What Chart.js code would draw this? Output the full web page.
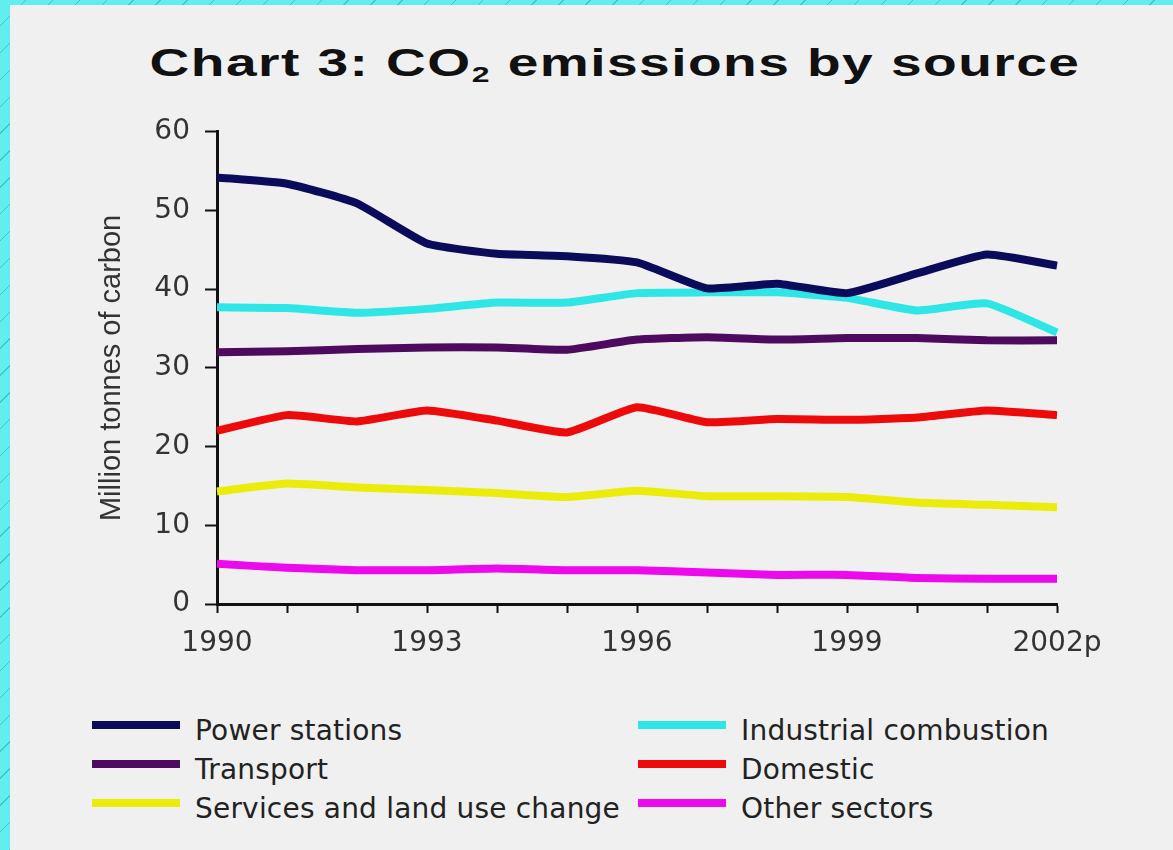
<!DOCTYPE html>
<html>
<head>
<meta charset="utf-8">
<script src="https://cdn.jsdelivr.net/npm/chart.js@4.4.1/dist/chart.umd.min.js"></script>
<style>
  html, body { margin:0; padding:0; }
  body { width:1173px; height:850px; overflow:hidden; background:#f0f0f0; position:relative; font-family:'DejaVu Sans', sans-serif; }
  .edge-top { position:absolute; left:0; top:0; width:1173px; height:5px;
    background: repeating-linear-gradient(135deg, #62eeee 0 18px, #3cc8c8 18px 19px); }
  .edge-left { position:absolute; left:0; top:0; width:10px; height:850px;
    background: repeating-linear-gradient(135deg, #62eeee 0 18px, #3cc8c8 18px 19px); }
  #title { position:absolute; left:56px; width:1117px; top:44px; text-align:center; }
  #title span { display:inline-block; font:bold 38px 'Liberation Sans', Arial, sans-serif; line-height:38px;
    letter-spacing:1px; color:#111; transform:scaleX(1.45); transform-origin:center; }
  #title sub { font-size:0.58em; vertical-align:-0.28em; line-height:0; }
  #wrap { position:absolute; left:0; top:100px; width:1173px; height:580px; }
  .lg { position:absolute; height:40px; display:flex; align-items:center; font:28px 'DejaVu Sans', sans-serif;
    letter-spacing:0.2px; color:#222; white-space:nowrap; }
  .lg i { display:inline-block; width:88px; height:8px; margin-right:15px; margin-top:-10px; }
</style>
</head>
<body>
<div class="edge-top"></div>
<div class="edge-left"></div>
<div id="title"><span>Chart 3: CO<sub>2</sub> emissions by source</span></div>
<div id="wrap"><canvas id="co2Chart"></canvas></div>
<div id="legend"></div>
<script>
// categories and tick labels
const years = ['1990','1991','1992','1993','1994','1995','1996','1997','1998','1999','2000','2001','2002p'];
const labeledYears = ['1990','1993','1996','1999','2002p'];
const yTicks = [0, 10, 20, 30, 40, 50, 60];

// series (million tonnes of carbon)
const powerStations        = [54.2, 53.4, 50.9, 45.8, 44.5, 44.2, 43.4, 40.1, 40.7, 39.5, 42.0, 44.4, 43.0];
const industrialCombustion = [37.7, 37.6, 37.0, 37.5, 38.3, 38.3, 39.5, 39.6, 39.6, 38.9, 37.3, 38.2, 34.5];
const transport            = [32.0, 32.1, 32.4, 32.6, 32.6, 32.3, 33.6, 33.9, 33.6, 33.8, 33.8, 33.5, 33.5];
const domestic             = [22.0, 24.0, 23.2, 24.6, 23.3, 21.8, 25.0, 23.1, 23.5, 23.4, 23.7, 24.6, 24.0];
const servicesLandUse      = [14.3, 15.3, 14.8, 14.5, 14.1, 13.6, 14.4, 13.7, 13.7, 13.6, 12.9, 12.6, 12.3];
const otherSectors         = [5.1, 4.6, 4.3, 4.3, 4.5, 4.3, 4.3, 4.0, 3.7, 3.7, 3.3, 3.2, 3.2];

const seriesNames = ['Power stations','Industrial combustion','Transport','Domestic','Services and land use change','Other sectors'];

const line = (label, data, color) => ({
  label, data, borderColor: color, backgroundColor: color,
  borderWidth: 8, pointRadius: 0, tension: 0.15, borderCapStyle: 'butt', borderJoinStyle: 'round'
});

const chart = new Chart(document.getElementById('co2Chart'), {
  type: 'line',
  data: {
    labels: years,
    datasets: [
      line(seriesNames[0], powerStations, '#0b0b5c'),
      line(seriesNames[1], industrialCombustion, '#2ee6e6'),
      line(seriesNames[2], transport, '#4e0a5e'),
      line(seriesNames[3], domestic, '#ec0a0a'),
      line(seriesNames[4], servicesLandUse, '#ecec0a'),
      line(seriesNames[5], otherSectors, '#ec0aec')
    ]
  },
  options: {
    responsive: true, maintainAspectRatio: false, animation: false,
    layout: { padding: { top: 31, left: 95, right: 116, bottom: 20 } },
    plugins: { legend: { display: false }, tooltip: { enabled: false } },
    scales: {
      x: {
        offset: false,
        grid: { drawOnChartArea: false, drawTicks: true, tickLength: 9, tickColor: '#111', tickWidth: 2 },
        border: { color: '#111', width: 3 },
        ticks: {
          autoSkip: false, maxRotation: 0, color: '#333', padding: 14,
          font: { family: 'DejaVu Sans', size: 28 },
          callback: (v, i) => labeledYears.includes(years[i]) ? years[i] : ''
        },
        afterFit: s => { s.height = 56; }
      },
      y: {
        min: yTicks[0], max: yTicks[yTicks.length - 1],
        afterBuildTicks: s => { s.ticks = yTicks.map(v => ({ value: v })); },
        grid: { drawOnChartArea: false, drawTicks: true, tickLength: 12, tickColor: '#111', tickWidth: 2 },
        border: { color: '#111', width: 3 },
        ticks: { color: '#333', padding: 15, font: { family: 'DejaVu Sans', size: 28 } },
        title: { display: true, text: 'Million tonnes of carbon', color: '#333', padding: 0,
                 font: { family: 'Liberation Sans', size: 29 } },
        afterFit: s => { s.width = 122; }
      }
    }
  }
});

// legend in two columns, built from the chart datasets
const legend = document.getElementById('legend');
legend.innerHTML = chart.data.datasets.map((d, i) => {
  const col = i % 2, row = Math.floor(i / 2);
  const left = col === 0 ? 92 : 638;
  const top = 710 + row * 39;
  return `<div class="lg" style="left:${left}px;top:${top}px"><i style="background:${d.borderColor}"></i>${d.label}</div>`;
}).join('');
</script>
</body>
</html>
